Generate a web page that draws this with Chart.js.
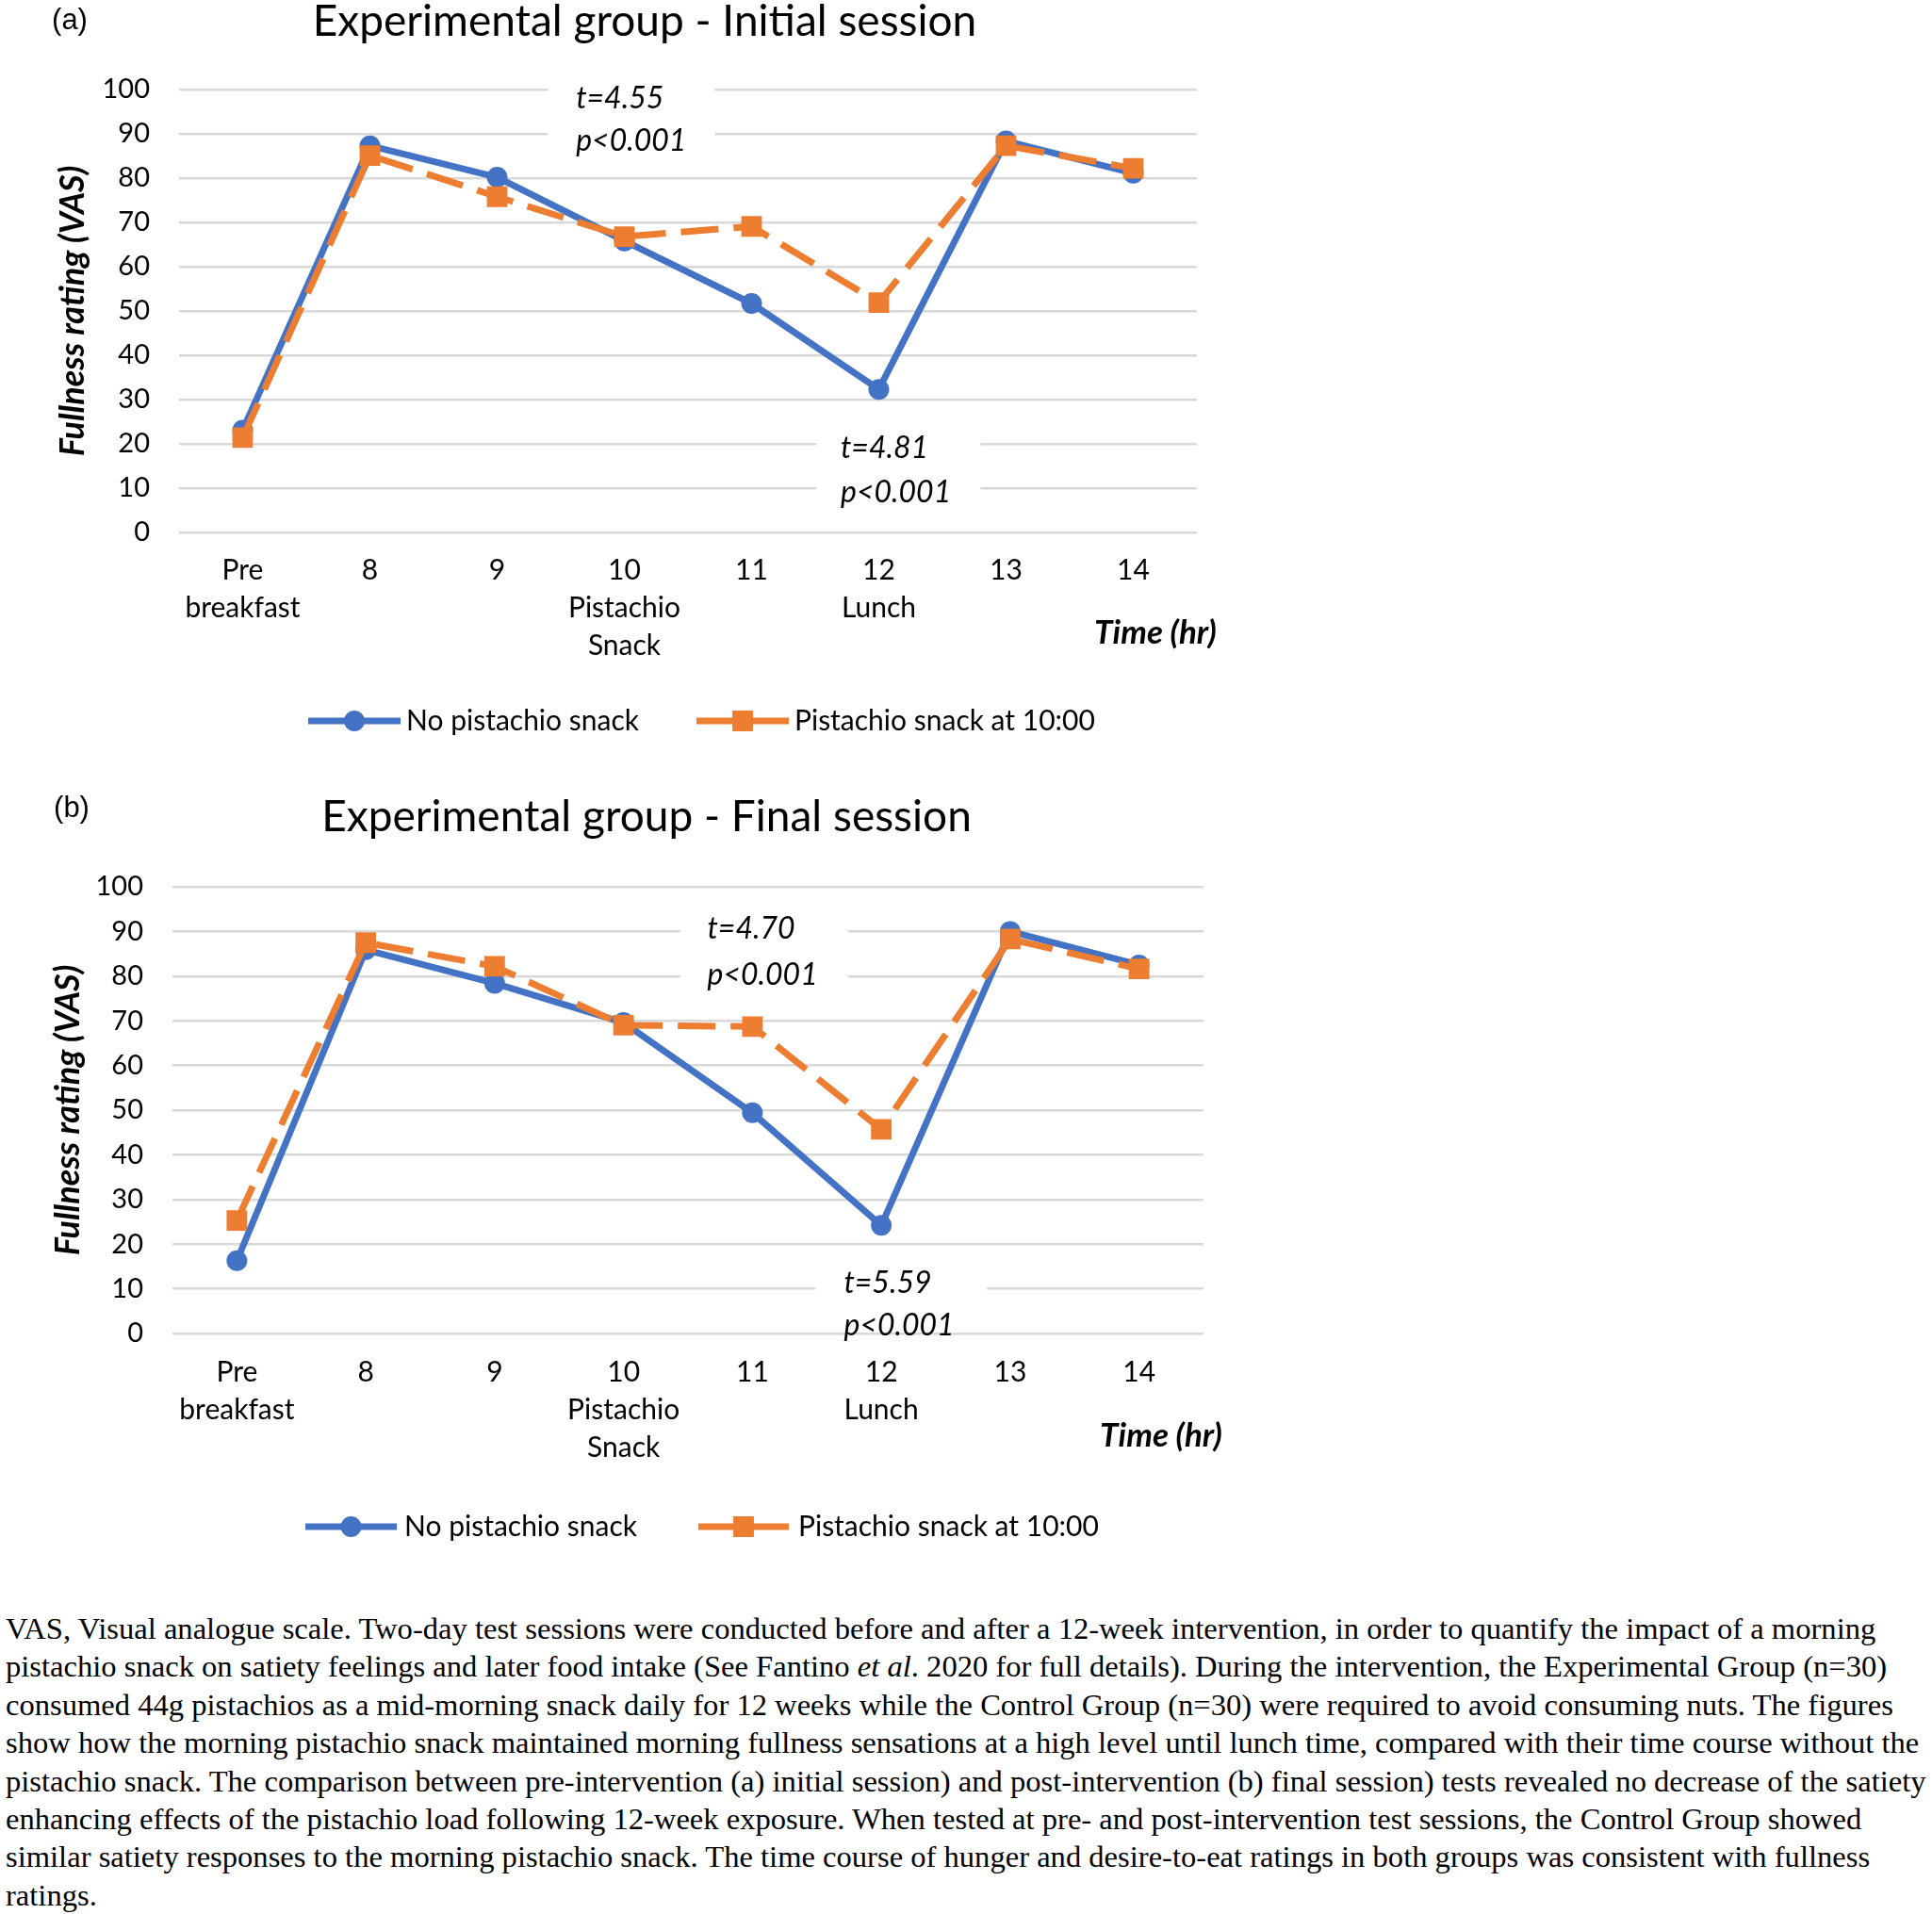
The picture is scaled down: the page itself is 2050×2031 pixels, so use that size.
<!DOCTYPE html>
<html>
<head>
<meta charset="utf-8">
<script src="https://cdn.jsdelivr.net/npm/chart.js@4.4.0/dist/chart.umd.min.js"></script>
<style>
    body { margin: 0; background: #fff; width: 2050px; height: 2031px; position: relative; overflow: hidden; }
    .panel { position: absolute; left: 0; width: 1400px; height: 830px; }
    #panel-a { top: 0; }
    #panel-b { top: 830px; }
    #caption {
        position: absolute; left: 6px; top: 1708px;
        font-family: 'Liberation Serif', 'Times New Roman', serif;
        font-size: 32.6px; line-height: 40.4px; white-space: nowrap; color: #000;
    }
</style>
</head>
<body>
<div class="panel" id="panel-a"><canvas id="chart-a"></canvas></div>
<div class="panel" id="panel-b"><canvas id="chart-b"></canvas></div>
<div id="caption">
VAS, Visual analogue scale. Two-day test sessions were conducted before and after a 12-week intervention, in order to quantify the impact of a morning<br>
pistachio snack on satiety feelings and later food intake (See Fantino <i>et al</i>. 2020 for full details). During the intervention, the Experimental Group (n=30)<br>
consumed 44g pistachios as a mid-morning snack daily for 12 weeks while the Control Group (n=30) were required to avoid consuming nuts. The figures<br>
show how the morning pistachio snack maintained morning fullness sensations at a high level until lunch time, compared with their time course without the<br>
pistachio snack. The comparison between pre-intervention (a) initial session) and post-intervention (b) final session) tests revealed no decrease of the satiety<br>
enhancing effects of the pistachio load following 12-week exposure. When tested at pre- and post-intervention test sessions, the Control Group showed<br>
similar satiety responses to the morning pistachio snack. The time course of hunger and desire-to-eat ratings in both groups was consistent with fullness<br>
ratings.
</div>
<script>
// data
const timeLabels = [['Pre', 'breakfast'], '8', '9', ['10', 'Pistachio', 'Snack'], '11', ['12', 'Lunch'], '13', '14'];
const seriesNames = ['No pistachio snack', 'Pistachio snack at 10:00'];
const initialNoSnack = [23.1, 87.3, 80.2, 65.8, 51.7, 32.3, 88.4, 81.1];
const initialSnack = [21.4, 85.1, 75.8, 66.8, 69.1, 51.9, 87.3, 82.2];
const finalNoSnack = [16.3, 85.9, 78.4, 69.6, 49.4, 24.2, 90.0, 82.5];
const finalSnack = [25.3, 87.5, 82.2, 69.0, 68.7, 45.7, 88.3, 81.6];
const panelTitles = ['Experimental group - Initial session', 'Experimental group - Final session'];
const statsInitial = [['t=4.55', 'p<0.001'], ['t=4.81', 'p<0.001']];
const statsFinal = [['t=4.70', 'p<0.001'], ['t=5.59', 'p<0.001']];
const yMin = 0, yMax = 100, yStep = 10;

const BLUE = '#4472C4';
const ORANGE = '#ED7D31';
const GRID = '#D9D9D9';
const FONT = 'Lato, "Open Sans", sans-serif';

// where things sit inside each canvas
const layoutA = {
    area: {left: 190, right: 1270, top: 95, bottom: 565},
    yTitlePad: 56, tickPad: 20,
    title: {x: 684, y: 38}, letter: {x: 74, y: 22}, time: {x: 1226, y: 672},
    legendY: 765, legend: [{x0: 327, x1: 425, tx: 431}, {x0: 739, x1: 837, tx: 843}],
    notes: [
        {box: [2.40, 3.71, 103, 83], tx: 2.62, ty: [97.9, 88.3]},
        {box: [4.51, 5.80, 25, 4], tx: 4.70, ty: [18.9, 9.1]}
    ]
};
const layoutB = {
    area: {left: 183, right: 1277, top: 111, bottom: 585},
    yTitlePad: 51, tickPad: 21,
    title: {x: 686, y: 52}, letter: {x: 76, y: 28}, time: {x: 1232, y: 694},
    legendY: 790, legend: [{x0: 324, x1: 421, tx: 429}, {x0: 741, x1: 837, tx: 847}],
    notes: [
        {box: [3.44, 4.74, 96, 75], tx: 3.65, ty: [90.5, 80.3]},
        {box: [4.49, 5.82, 15, 5], tx: 4.71, ty: [11.2, 1.8]}
    ]
};

function makeDecorPlugin(title, letter, stats, lay) {
    return {
        id: 'decor',
        beforeDatasetsDraw(chart) {
            const {ctx, scales: {x, y}} = chart;
            ctx.save();
            lay.notes.forEach((n, i) => {
                const x0 = x.getPixelForDecimal((n.box[0] + 0.5) / timeLabels.length);
                const x1 = x.getPixelForDecimal((n.box[1] + 0.5) / timeLabels.length);
                const y0 = y.getPixelForValue(n.box[2]);
                const y1 = y.getPixelForValue(n.box[3]);
                ctx.fillStyle = '#fff';
                ctx.fillRect(x0, y0, x1 - x0, y1 - y0);
                ctx.fillStyle = '#000';
                ctx.font = 'italic 32px ' + FONT;
                ctx.textAlign = 'left';
                ctx.textBaseline = 'middle';
                const tx = x.getPixelForDecimal((n.tx + 0.5) / timeLabels.length);
                stats[i].forEach((s, k) => ctx.fillText(s, tx, y.getPixelForValue(n.ty[k])));
            });
            ctx.restore();
        },
        afterDraw(chart) {
            const {ctx} = chart;
            ctx.save();
            ctx.fillStyle = '#000';
            ctx.textAlign = 'center';
            ctx.textBaseline = 'alphabetic';
            ctx.font = '46px ' + FONT;
            ctx.fillText(title, lay.title.x, lay.title.y);
            ctx.textBaseline = 'middle';
            ctx.font = '31px "Liberation Sans", Arial, sans-serif';
            ctx.fillText(letter, lay.letter.x, lay.letter.y);
            ctx.font = 'italic bold 35px ' + FONT;
            ctx.fillText('Time (hr)', lay.time.x, lay.time.y);

            // legend: line with marker, like the spreadsheet one
            ctx.textAlign = 'left';
            chart.data.datasets.forEach((ds, i) => {
                const it = lay.legend[i];
                const yy = lay.legendY;
                ctx.strokeStyle = ds.borderColor;
                ctx.lineWidth = ds.borderWidth;
                ctx.setLineDash([]);
                ctx.beginPath();
                ctx.moveTo(it.x0, yy);
                ctx.lineTo(it.x1, yy);
                ctx.stroke();
                ctx.fillStyle = ds.pointBackgroundColor;
                ctx.strokeStyle = ds.pointBorderColor;
                ctx.lineWidth = ds.pointBorderWidth;
                Chart.helpers.drawPoint(ctx, {
                    pointStyle: ds.pointStyle, radius: ds.pointRadius, rotation: 0,
                    borderWidth: ds.pointBorderWidth
                }, (it.x0 + it.x1) / 2, yy);
                ctx.fillStyle = '#000';
                ctx.font = '30px ' + FONT;
                ctx.fillText(ds.label, it.tx, yy);
            });
            ctx.restore();
        }
    };
}

function makePanel(canvasId, title, letter, noSnack, snack, stats, lay) {
    const ctx = document.getElementById(canvasId).getContext('2d');
    return new Chart(ctx, {
        type: 'line',
        data: {
            labels: timeLabels,
            datasets: [
                {
                    label: seriesNames[0],
                    data: noSnack,
                    borderColor: BLUE,
                    backgroundColor: BLUE,
                    borderWidth: 7,
                    borderJoinStyle: 'round',
                    pointStyle: 'circle',
                    pointRadius: 10,
                    pointBorderWidth: 2,
                    pointBackgroundColor: BLUE,
                    pointBorderColor: BLUE,
                    order: 2
                },
                {
                    label: seriesNames[1],
                    data: snack,
                    borderColor: ORANGE,
                    backgroundColor: ORANGE,
                    borderWidth: 7,
                    borderDash: [40, 16],
                    borderJoinStyle: 'round',
                    pointStyle: 'rect',
                    pointRadius: 14,
                    pointBorderWidth: 2,
                    pointBackgroundColor: ORANGE,
                    pointBorderColor: ORANGE,
                    order: 1
                }
            ]
        },
        options: {
            responsive: true,
            maintainAspectRatio: false,
            animation: false,
            layout: {padding: {left: 0, top: lay.area.top, right: 1400 - lay.area.right, bottom: 0}},
            plugins: {legend: {display: false}, title: {display: false}, tooltip: {enabled: false}},
            scales: {
                x: {
                    offset: true,
                    grid: {display: false, drawTicks: false},
                    border: {display: false},
                    ticks: {
                        color: '#000', padding: lay.tickPad, maxRotation: 0, autoSkip: false,
                        font: {family: FONT, size: 30, lineHeight: 40 / 30}
                    },
                    afterFit: (s) => { s.height = 830 - lay.area.bottom; }
                },
                y: {
                    min: yMin, max: yMax,
                    grid: {color: GRID, lineWidth: 2.5, drawTicks: false},
                    border: {display: false},
                    ticks: {stepSize: yStep, color: '#000', padding: 31, font: {family: FONT, size: 29}},
                    title: {
                        display: true, text: 'Fullness rating (VAS)', color: '#000',
                        font: {family: FONT, size: 36, weight: 'bold', style: 'italic', lineHeight: 1.2},
                        padding: {top: lay.yTitlePad, bottom: 0}
                    },
                    afterFit: (s) => { s.width = lay.area.left; }
                }
            }
        },
        plugins: [makeDecorPlugin(title, letter, stats, lay)]
    });
}

makePanel('chart-a', panelTitles[0], '(a)', initialNoSnack, initialSnack, statsInitial, layoutA);
makePanel('chart-b', panelTitles[1], '(b)', finalNoSnack, finalSnack, statsFinal, layoutB);
</script>
</body>
</html>
